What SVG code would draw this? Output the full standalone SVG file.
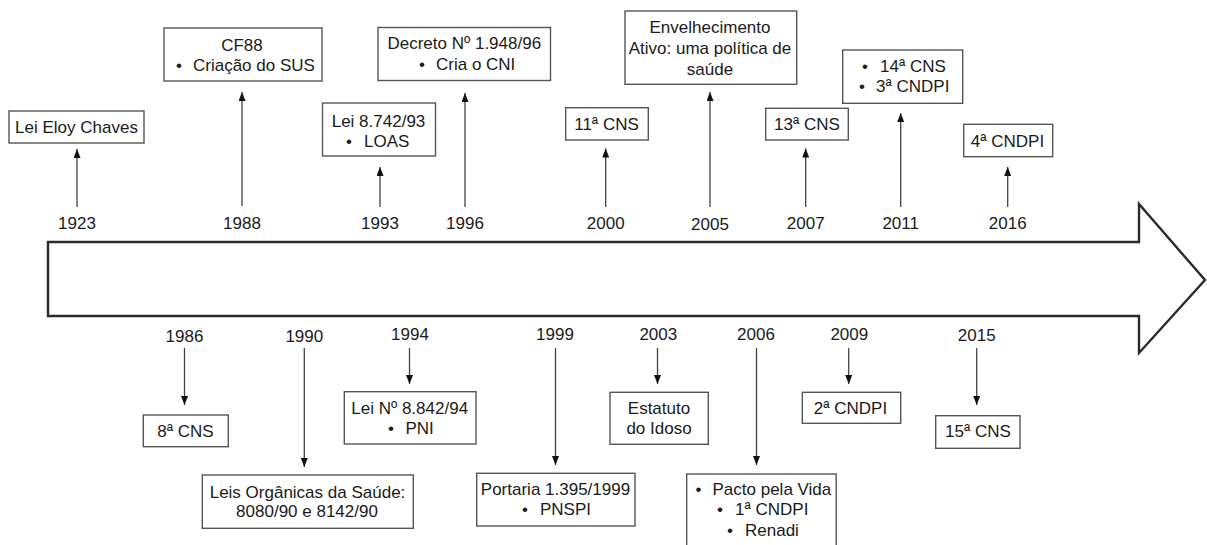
<svg xmlns="http://www.w3.org/2000/svg" width="1207" height="545" viewBox="0 0 1207 545">
<defs>
<marker id="ah" markerUnits="userSpaceOnUse" markerWidth="10" markerHeight="8" refX="9" refY="3.5" orient="auto">
<path d="M0,0 L9,3.5 L0,7 z" fill="#111"/>
</marker>
<style>
text{font-family:"Liberation Sans",Arial,sans-serif;font-size:17px;fill:#1a1a1a}
.c{text-anchor:middle}
.box{fill:#fff;stroke:#555;stroke-width:1.4}
.con line{stroke:#444;stroke-width:1.3;marker-end:url(#ah)}
.big{fill:#fff;stroke:#2a2a2a;stroke-width:2.4;stroke-linejoin:miter}
</style>
</defs>
<rect width="1207" height="545" fill="#fff"/>
<path id="timeline" class="big" d="M48,242 H1139 V204 L1205,280 L1139,353 V316 H48 Z"/>

<g class="con" id="connectors">
<line x1="77" y1="207" x2="77" y2="149"/>
<line x1="242" y1="206" x2="242" y2="92"/>
<line x1="380" y1="207" x2="380" y2="167"/>
<line x1="465" y1="207" x2="465" y2="93"/>
<line x1="605.7" y1="207" x2="605.7" y2="148.5"/>
<line x1="710" y1="207" x2="710" y2="92"/>
<line x1="805.7" y1="207" x2="805.7" y2="148.5"/>
<line x1="900.7" y1="207" x2="900.7" y2="113"/>
<line x1="1007.7" y1="207" x2="1007.7" y2="167"/>
<line x1="184.5" y1="348" x2="184.5" y2="405"/>
<line x1="304.3" y1="348" x2="304.3" y2="467"/>
<line x1="409.5" y1="348" x2="409.5" y2="384"/>
<line x1="555.5" y1="348" x2="555.5" y2="465"/>
<line x1="657.5" y1="348" x2="657.5" y2="384"/>
<line x1="756.5" y1="348" x2="756.5" y2="465"/>
<line x1="848.7" y1="348" x2="848.7" y2="384"/>
<line x1="976.7" y1="348" x2="976.7" y2="405"/>
</g>

<g id="years">
<text class="c" x="77" y="229">1923</text>
<text class="c" x="242" y="229">1988</text>
<text class="c" x="380" y="229">1993</text>
<text class="c" x="465" y="229">1996</text>
<text class="c" x="605.7" y="228.5">2000</text>
<text class="c" x="710" y="230">2005</text>
<text class="c" x="805.7" y="229">2007</text>
<text class="c" x="900.7" y="229">2011</text>
<text class="c" x="1007.7" y="229">2016</text>
<text class="c" x="184.5" y="341.5">1986</text>
<text class="c" x="304.3" y="341.5">1990</text>
<text class="c" x="410" y="339.5">1994</text>
<text class="c" x="555" y="339.5">1999</text>
<text class="c" x="658.3" y="339.5">2003</text>
<text class="c" x="756" y="339.5">2006</text>
<text class="c" x="849.3" y="340">2009</text>
<text class="c" x="976.7" y="340.5">2015</text>
</g>

<g id="n1923">
<rect class="box" x="9" y="111" width="135" height="32"/>
<text class="c" x="76.5" y="133">Lei Eloy Chaves</text>
</g>
<g id="n1988">
<rect class="box" x="164" y="28" width="158" height="53"/>
<text class="c" x="242" y="50.5">CF88</text>
<text y="71"><tspan x="176">•</tspan><tspan x="193">Criação do SUS</tspan></text>
</g>
<g id="n1993">
<rect class="box" x="322.5" y="103" width="113" height="53"/>
<text class="c" x="378.5" y="127">Lei 8.742/93</text>
<text y="147"><tspan x="346">•</tspan><tspan x="364">LOAS</tspan></text>
</g>
<g id="n1996">
<rect class="box" x="378" y="27.5" width="172.5" height="53"/>
<text class="c" x="464.3" y="48.5">Decreto Nº  1.948/96</text>
<text y="70"><tspan x="419">•</tspan><tspan x="436">Cria o CNI</tspan></text>
</g>
<g id="n2000">
<rect class="box" x="565.7" y="107.7" width="82.6" height="32.3"/>
<text class="c" x="606.5" y="129.5">11ª CNS</text>
</g>
<g id="n2005">
<rect class="box" x="625" y="11" width="171.7" height="73.3"/>
<text class="c" x="710" y="32.5">Envelhecimento</text>
<text class="c" x="710" y="54">Ativo: uma política de</text>
<text class="c" x="710" y="74.5">saúde</text>
</g>
<g id="n2007">
<rect class="box" x="765.7" y="108.3" width="82.6" height="31.7"/>
<text class="c" x="807" y="129.5">13ª CNS</text>
</g>
<g id="n2011">
<rect class="box" x="842.7" y="50" width="120" height="53.3"/>
<text y="71.5"><tspan x="862">•</tspan><tspan x="880">14ª CNS</tspan></text>
<text y="92"><tspan x="859">•</tspan><tspan x="876">3ª CNDPI</tspan></text>
</g>
<g id="n2016">
<rect class="box" x="963.7" y="124.3" width="89" height="32.4"/>
<text class="c" x="1007.5" y="146.5">4ª CNDPI</text>
</g>

<g id="n1986">
<rect class="box" x="143.3" y="415" width="85" height="31.7"/>
<text class="c" x="185.5" y="436.5">8ª CNS</text>
</g>
<g id="n1990">
<rect class="box" x="202.3" y="475" width="211" height="53.3"/>
<text class="c" x="307.5" y="498">Leis Orgânicas da Saúde:</text>
<text class="c" x="307" y="517">8080/90 e 8142/90</text>
</g>
<g id="n1994">
<rect class="box" x="344.3" y="391.7" width="131.7" height="52.3"/>
<text class="c" x="409.7" y="413.5">Lei Nº 8.842/94</text>
<text y="433.5"><tspan x="388">•</tspan><tspan x="405.5">PNI</tspan></text>
</g>
<g id="n1999">
<rect class="box" x="476.7" y="473.3" width="158.3" height="52.7"/>
<text class="c" x="555.5" y="495">Portaria 1.395/1999</text>
<text y="515"><tspan x="522">•</tspan><tspan x="540">PNSPI</tspan></text>
</g>
<g id="n2003">
<rect class="box" x="610" y="392.3" width="98.3" height="52"/>
<text class="c" x="659" y="413.5">Estatuto</text>
<text class="c" x="659" y="433.5">do Idoso</text>
</g>
<g id="n2006">
<rect class="box" x="686.7" y="474" width="149.5" height="90"/>
<text y="495"><tspan x="695.5">•</tspan><tspan x="712.5">Pacto pela Vida</tspan></text>
<text y="515"><tspan x="717">•</tspan><tspan x="735">1ª CNDPI</tspan></text>
<text y="536"><tspan x="727">•</tspan><tspan x="745">Renadi</tspan></text>
</g>
<g id="n2009">
<rect class="box" x="802.3" y="392.3" width="98.4" height="31"/>
<text class="c" x="850.5" y="414">2ª CNDPI</text>
</g>
<g id="n2015">
<rect class="box" x="935.7" y="415.7" width="84.3" height="32.6"/>
<text class="c" x="978" y="437">15ª CNS</text>
</g>
</svg>
